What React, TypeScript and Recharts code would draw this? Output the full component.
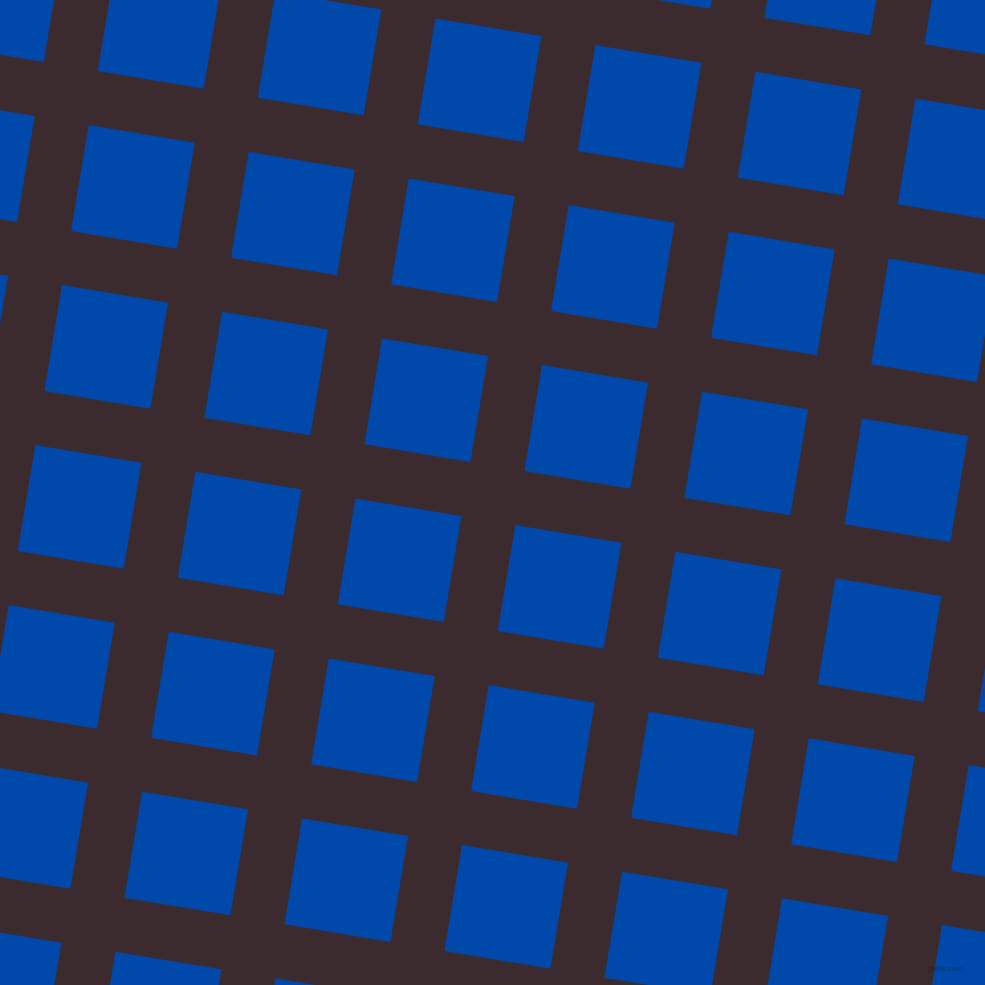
import { Scatter, ScatterChart, XAxis, YAxis } from 'recharts'

// lattice positions of the tiles (unrotated frame, one unit = one tile pitch)
const columns = [-6, -5, -4, -3, -2, -1, 0, 1, 2, 3, 4, 5, 6]
const rows = [-6, -5, -4, -3, -2, -1, 0, 1, 2, 3, 4, 5, 6]

const BG = '#3b2b2e'
const TILE = '#0049aa'

const PITCH = 162.2 // px per unit
const TILE_SIDE = 107.4
const SIZE = PITCH * 12
// page position of the lattice point at (0, 0)
const CENTER_X = 426.6
const CENTER_Y = 400.6
const ANGLE = 9.46

const tiles = columns.flatMap((x) => rows.map((y) => ({ x, y })))

function Tile(props: any) {
  const { cx, cy } = props
  if (cx == null || cy == null) return null
  return (
    <rect
      x={cx - TILE_SIDE / 2}
      y={cy - TILE_SIDE / 2}
      width={TILE_SIDE}
      height={TILE_SIDE}
      fill={TILE}
    />
  )
}

export default function App() {
  return (
    <div
      style={{
        position: 'fixed',
        left: 0,
        top: 0,
        width: 985,
        height: 985,
        overflow: 'hidden',
        background: BG,
      }}
    >
      <div
        style={{
          position: 'absolute',
          left: CENTER_X - SIZE / 2,
          top: CENTER_Y - SIZE / 2,
          width: SIZE,
          height: SIZE,
          transform: `rotate(${ANGLE}deg)`,
          transformOrigin: 'center center',
        }}
      >
        <ScatterChart width={SIZE} height={SIZE} margin={{ top: 0, right: 0, bottom: 0, left: 0 }}>
          <XAxis type="number" dataKey="x" domain={[-6, 6]} hide />
          <YAxis type="number" dataKey="y" domain={[-6, 6]} hide />
          <Scatter data={tiles} shape={<Tile />} isAnimationActive={false} />
        </ScatterChart>
      </div>
      <div
        style={{
          position: 'absolute',
          left: 928,
          top: 964,
          fontFamily: '"Liberation Sans", Arial, sans-serif',
          fontSize: 8,
          lineHeight: '10px',
          color: 'rgba(0, 0, 0, 0.35)',
        }}
      >
        pixlis.com
      </div>
    </div>
  )
}
